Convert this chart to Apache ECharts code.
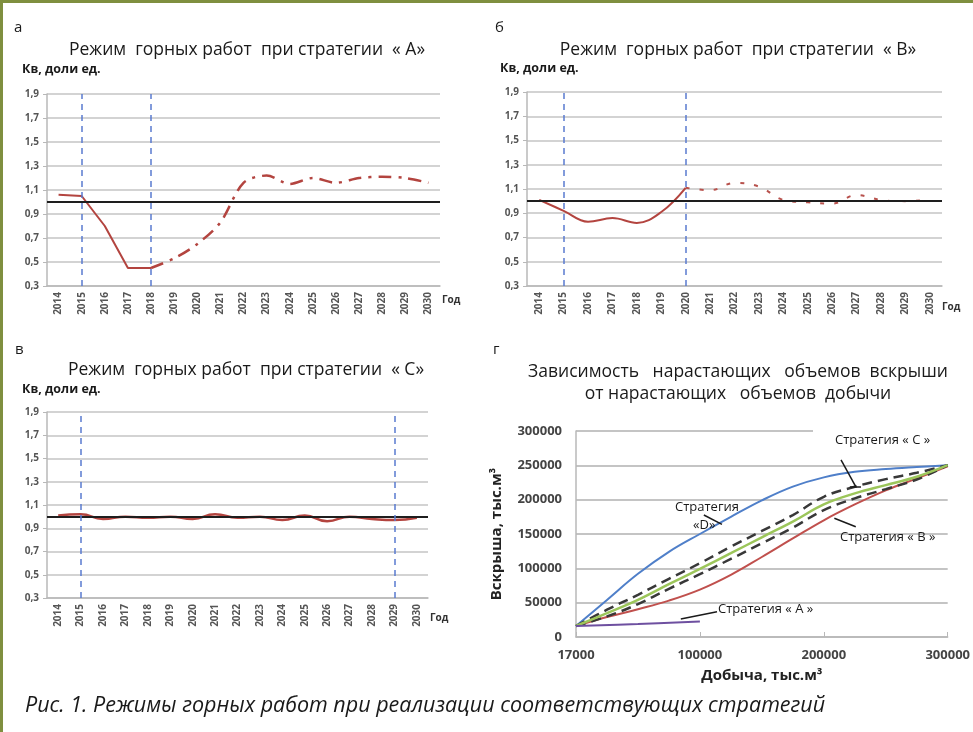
<!doctype html>
<html lang="ru">
<head>
    <meta charset="UTF-8">
    <title>Режимы горных работ</title>
    <script src="https://cdn.jsdelivr.net/npm/echarts@6/dist/echarts.min.js"></script>
    <style>
        html, body { margin: 0; padding: 0; background: #fff; }
    </style>
</head>
<body>
<div id="main" style="width:973px; height:732px;"></div>

<script>
    // годы (ось X панелей а, б, в)
    var years = ['2014', '2015', '2016', '2017', '2018', '2019', '2020', '2021', '2022',
        '2023', '2024', '2025', '2026', '2027', '2028', '2029', '2030'];
    var kvTicks = [0.3, 0.5, 0.7, 0.9, 1.1, 1.3, 1.5, 1.7, 1.9];

    // Кв, доли ед.
    var kvA = [1.06, 1.05, 0.80, 0.45, 0.45, 0.53, 0.65, 0.83, 1.16, 1.22, 1.15, 1.20, 1.16, 1.20, 1.21, 1.20, 1.16];
    var kvB = [1.01, 0.92, 0.83, 0.86, 0.82, 0.91, 1.11, 1.09, 1.15, 1.12, 1.01, 0.99, 0.98, 1.05, 1.01, 1.00, 1.01];
    var kvC = [1.01, 1.02, 0.98, 1.00, 0.99, 1.00, 0.98, 1.02, 0.99, 1.00, 0.97, 1.01, 0.96, 1.00, 0.98, 0.97, 0.99];
    var kvNorm = 1.0;

    // границы периодов (вертикальные пунктиры)
    var boundsA = ['2015', '2018'];
    var boundsB = ['2015', '2020'];
    var boundsC = ['2015', '2029'];

    // панель г: добыча (ось X) и вскрыша по стратегиям, тыс.м3
    var prodTicks = ['17000', '100000', '200000', '300000'];
    var prodX = [0, 25000, 50000, 75000, 100000, 125000, 150000, 175000, 200000, 225000, 250000, 275000, 300000];
    var stripD = [16000, 54000, 92000, 124000, 150000, 175000, 199000, 219000, 232500, 240500, 244500, 247500, 250200];
    var stripC = [16000, 34800, 54200, 77000, 99200, 122000, 145200, 168000, 193100, 209100, 221200, 233300, 250200];
    var stripCUp = [16000, 39700, 61500, 84700, 107400, 131600, 154400, 177600, 204200, 218800, 229900, 239100, 250200];
    var stripCLow = [16000, 30000, 47900, 70200, 91500, 113700, 136500, 159200, 184900, 201800, 215400, 229400, 250200];
    var stripB = [16000, 29000, 40500, 53000, 69000, 90500, 116500, 143500, 170000, 193000, 213500, 231000, 248500];
    var prodXA = [0, 50000, 100000];
    var stripA = [16000, 19000, 22700];

    var FONT = 'Open Sans';
    var gridColor = '#c4c4c4';
    var axisColor = '#b8b8b8';
    var redLine = '#b3443f';

    function pairs(xs, ys) {
        return xs.map(function (x, i) { return [x, ys[i]]; });
    }

    function kvXAxis(gi) {
        return {
            type: 'category', gridIndex: gi, data: years, boundaryGap: true,
            axisLine: {lineStyle: {color: axisColor, width: 1.5}},
            axisTick: {length: 4, lineStyle: {color: axisColor}},
            axisLabel: {
                interval: 0, rotate: 90, margin: 6, color: '#555',
                fontFamily: FONT, fontWeight: 'bold', fontSize: 10
            },
            splitLine: {show: false}
        };
    }

    function kvYAxis(gi) {
        return {
            type: 'value', gridIndex: gi, min: 0.3, max: 1.9,
            axisLine: {show: true, lineStyle: {color: axisColor, width: 1.5}},
            axisTick: {show: true, customValues: kvTicks, length: 4, lineStyle: {color: axisColor}},
            axisLabel: {
                customValues: kvTicks, margin: 8, color: '#555',
                fontFamily: FONT, fontWeight: 'bold', fontSize: 10,
                formatter: function (v) { return v.toFixed(1).replace('.', ','); }
            },
            splitLine: {show: true, lineStyle: {color: gridColor, width: 1.5}}
        };
    }

    // сплошная (факт) и прерывистая (план) части кривой
    function splitAt(vals, year, part) {
        var k = years.indexOf(year);
        return vals.map(function (v, i) {
            if (part === 0) return i <= k ? v : null;
            return i >= k ? v : null;
        });
    }

    function guides(bounds) {
        return {
            silent: true, symbol: 'none', label: {show: false},
            data: [
                {yAxis: kvNorm, lineStyle: {color: '#1e1e1e', width: 2, type: 'solid'}},
                {xAxis: bounds[0], lineStyle: {color: '#5a7bd0', width: 1.5, type: [6, 5]}},
                {xAxis: bounds[1], lineStyle: {color: '#5a7bd0', width: 1.5, type: [6, 5]}}
            ]
        };
    }

    function curveD(xs, ys, color, width, dash) {
        return {
            type: 'line', xAxisIndex: 3, yAxisIndex: 3, data: pairs(xs, ys),
            symbol: 'none', smooth: 0.4,
            lineStyle: {color: color, width: width, type: dash || 'solid'}
        };
    }

    function txt(x, y, s, font, align, color) {
        return {
            type: 'text', x: x, y: y, z: 110,
            style: {
                text: s, font: font, fill: color || '#1a1a1a',
                align: align || 'left', textAlign: align || 'left',
                verticalAlign: 'middle', textVerticalAlign: 'middle'
            }
        };
    }

    var titleFont = '17.5px "Open Sans"';
    var nameFont = 'bold 12.5px "Open Sans"';
    var godFont = 'bold 10px "Open Sans"';
    var stratFont = '13px "Open Sans"';

    var pointers = curveD(prodXA, stripA, '#6e50a0', 2);
    // выноски подписей стратегий
    pointers.markLine = {
        silent: true, symbol: 'none', label: {show: false},
        lineStyle: {color: '#1a1a1a', width: 1.5, type: 'solid'},
        data: [
            [{coord: [84600, 26200]}, {coord: [113800, 36800]}],
            [{coord: [213900, 257800]}, {coord: [225800, 218900]}],
            [{coord: [221000, 218400]}, {coord: [230000, 218400]}],
            [{coord: [208500, 172900]}, {coord: [225800, 160600]}],
            [{coord: [103200, 177700]}, {coord: [117800, 164100]}]
        ]
    };

    var myChart = echarts.init(document.getElementById('main'));
    myChart.setOption({
        animation: false,
        backgroundColor: '#fff',
        grid: [
            {left: 47, top: 94, width: 393, height: 192},
            {left: 527, top: 92, width: 415, height: 194},
            {left: 47, top: 412, width: 381, height: 186},
            {left: 576, top: 431, width: 374, height: 206}
        ],
        xAxis: [
            kvXAxis(0), kvXAxis(1), kvXAxis(2),
            {
                type: 'value', gridIndex: 3, min: 0, max: 300000, interval: 100000,
                axisLine: {lineStyle: {color: axisColor, width: 1.5}},
                axisTick: {inside: true, length: 5, lineStyle: {color: axisColor}},
                axisLabel: {
                    margin: 12, color: '#444', fontFamily: FONT, fontWeight: 'bold', fontSize: 13,
                    formatter: function (v) { return prodTicks[Math.round(v / 100000)]; }
                },
                splitLine: {show: false},
                name: 'Добыча, тыс.м³', nameLocation: 'middle', nameGap: 31,
                nameTextStyle: {color: '#222', fontFamily: FONT, fontWeight: 'bold', fontSize: 15}
            }
        ],
        yAxis: [
            kvYAxis(0), kvYAxis(1), kvYAxis(2),
            {
                type: 'value', gridIndex: 3, min: 0, max: 300000, interval: 50000,
                axisLine: {show: true, lineStyle: {color: axisColor, width: 1.5}},
                axisTick: {show: false},
                axisLabel: {
                    margin: 14, color: '#444', fontFamily: FONT, fontWeight: 'bold', fontSize: 13,
                    formatter: function (v) { return String(v); }
                },
                splitLine: {show: true, lineStyle: {color: gridColor, width: 2}},
                name: 'Вскрыша, тыс.м³', nameLocation: 'middle', nameGap: 72,
                nameTextStyle: {color: '#222', fontFamily: FONT, fontWeight: 'bold', fontSize: 15}
            }
        ],
        series: [
            // а
            {
                type: 'line', xAxisIndex: 0, yAxisIndex: 0, data: splitAt(kvA, boundsA[1], 0),
                symbol: 'none', lineStyle: {color: redLine, width: 2}, markLine: guides(boundsA)
            },
            {
                type: 'line', xAxisIndex: 0, yAxisIndex: 0, data: splitAt(kvA, boundsA[1], 1),
                symbol: 'none', smooth: 0.3, lineStyle: {color: redLine, width: 2.5, type: [13, 7, 3, 7]}
            },
            // б
            {
                type: 'line', xAxisIndex: 1, yAxisIndex: 1, data: splitAt(kvB, boundsB[1], 0),
                symbol: 'none', smooth: 0.4, lineStyle: {color: redLine, width: 2}, markLine: guides(boundsB)
            },
            {
                type: 'line', xAxisIndex: 1, yAxisIndex: 1, data: splitAt(kvB, boundsB[1], 1),
                symbol: 'none', smooth: 0.4, lineStyle: {color: '#b8524d', width: 2, type: [4, 10]}
            },
            // в
            {
                type: 'line', xAxisIndex: 2, yAxisIndex: 2, data: kvC, z: 1,
                symbol: 'none', smooth: 0.5, lineStyle: {color: redLine, width: 2.5}, markLine: guides(boundsC)
            },
            // г
            curveD(prodX, stripD, '#4f7fc9', 2),
            curveD(prodX, stripB, '#c0504d', 2),
            curveD(prodX, stripCUp, '#383838', 2.5, [10, 6]),
            curveD(prodX, stripCLow, '#383838', 2.5, [10, 6]),
            curveD(prodX, stripC, '#9cc65a', 2.5),
            pointers
        ],
        graphic: [
            {type: 'rect', z: 100, shape: {x: 0, y: 0, width: 973, height: 3}, style: {fill: '#7f8f3f'}},
            {type: 'rect', z: 100, shape: {x: 0, y: 0, width: 3, height: 732}, style: {fill: '#7f8f3f'}},
            {type: 'rect', z: 100, shape: {x: 813, y: 428, width: 140, height: 6}, style: {fill: '#fff'}},

            txt(14, 28, 'а', '15px "Open Sans"'),
            txt(247, 50, 'Режим  горных работ  при стратегии  « А»', titleFont, 'center'),
            txt(22, 69, 'Кв, доли ед.', nameFont),
            txt(442, 300, 'Год', godFont, 'left', '#333'),

            txt(495, 28, 'б', '15px "Open Sans"'),
            txt(738, 50, 'Режим  горных работ  при стратегии  « В»', titleFont, 'center'),
            txt(500, 68, 'Кв, доли ед.', nameFont),
            txt(942, 307, 'Год', godFont, 'left', '#333'),

            txt(15, 350, 'в', '15px "Open Sans"'),
            txt(246, 370, 'Режим  горных работ  при стратегии  « С»', titleFont, 'center'),
            txt(22, 389, 'Кв, доли ед.', nameFont),
            txt(430, 618, 'Год', godFont, 'left', '#333'),

            txt(493, 350, 'г', '15px "Open Sans"'),
            txt(738, 372, 'Зависимость   нарастающих   объемов  вскрыши', titleFont, 'center'),
            txt(738, 394, 'от нарастающих   объемов  добычи', titleFont, 'center'),

            txt(835, 440, 'Стратегия « С »', stratFont),
            txt(675, 507, 'Стратегия', stratFont),
            txt(693, 525, '«D»', stratFont),
            txt(840, 537, 'Стратегия « В »', stratFont),
            txt(718, 609, 'Стратегия « А »', stratFont),

            txt(25, 706, 'Рис. 1. Режимы горных работ при реализации соответствующих стратегий',
                'italic 21.5px "Open Sans"')
        ]
    });
</script>
</body>
</html>
